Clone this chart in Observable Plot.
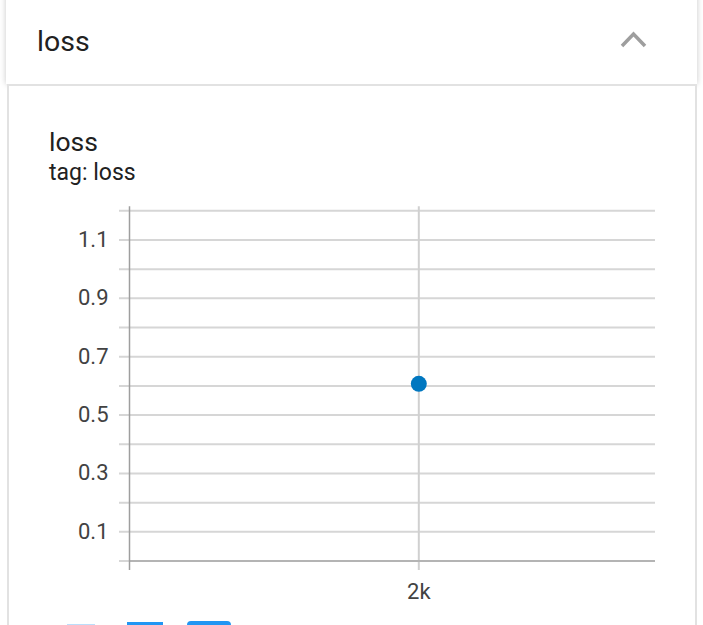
<!DOCTYPE html>
<html><head><meta charset="utf-8">
<script src="https://cdn.jsdelivr.net/npm/d3@7"></script>
<script src="https://cdn.jsdelivr.net/npm/@observablehq/plot@0.6"></script>
<style>
html,body{margin:0;padding:0;background:#fff;width:703px;height:625px;overflow:hidden;font-family:Roboto,"Noto Sans",sans-serif;}
#header{position:absolute;left:6px;top:-10px;width:691px;height:94px;background:#fff;box-shadow:0 0 6px rgba(0,0,0,0.22);}
#htitle{position:absolute;left:37px;top:25px;font-size:28.5px;line-height:34px;color:#212121;}
#chev{position:absolute;left:0;top:0;}
#card{position:absolute;left:7px;top:84px;width:690px;height:600px;box-sizing:border-box;border:2px solid #e2e2e2;background:#fff;}
#ctitle{position:absolute;left:49px;top:127px;font-size:26.5px;line-height:30px;color:#212121;}
#ctag{position:absolute;left:49px;top:160px;font-size:23px;line-height:26px;color:#212121;}
#plot{position:absolute;left:0;top:190px;}
.btn{position:absolute;}
</style></head>
<body>
<div id="header"></div>
<div id="htitle">loss</div>
<svg id="chev" width="703" height="84"><polyline points="622,46 633.5,34 645,46" fill="none" stroke="#9e9e9e" stroke-width="3.5"/></svg>
<div id="card"></div>
<div id="ctitle">loss</div>
<div id="ctag">tag: loss</div>
<div id="plot"></div>
<div class="btn" style="left:67px;top:624px;width:28px;height:4px;background:#bbdefb;"></div>
<div class="btn" style="left:127px;top:622px;width:36px;height:6px;background:#2196f3;"></div>
<div class="btn" style="left:187px;top:621px;width:44px;height:8px;background:#2196f3;border-radius:4px;"></div>
<script>
const steps = [2000];
const lossValues = [0.607];
const yGrid = [0, 0.1, 0.2, 0.3, 0.4, 0.5, 0.6, 0.7, 0.8, 0.9, 1.0, 1.1, 1.2];
const yTickLabels = [0.1, 0.3, 0.5, 0.7, 0.9, 1.1];
const xTicks = [2000];
const xDomain = [1890, 2090];
const yDomain = [0, 1.2];

const data = steps.map((s, i) => ({step: s, loss: lossValues[i]}));

const chart = Plot.plot({
  width: 703, height: 430,
  marginLeft: 129, marginRight: 48, marginTop: 20.3, marginBottom: 59.5,
  style: {fontFamily: "Roboto", fontSize: "22px", color: "#424242", background: "transparent", overflow: "visible"},
  x: {domain: xDomain, ticks: xTicks, tickFormat: d => d / 1000 + "k", tickSize: 0, tickPadding: 22, label: null},
  y: {domain: yDomain, ticks: yTickLabels, tickFormat: d => d.toFixed(1), tickSize: 0, tickPadding: 21, label: null},
  marks: [
    Plot.ruleY(yGrid, {stroke: "#d6d6d6", strokeWidth: 2, insetLeft: -10}),
    Plot.ruleX(xTicks, {stroke: "#d0d0d0", strokeWidth: 2, insetTop: -4, insetBottom: -9.5}),
    Plot.ruleY([yDomain[0]], {stroke: "#b4b4b4", strokeWidth: 2}),
    Plot.ruleX([xDomain[0]], {stroke: "#9e9e9e", strokeWidth: 1.5, insetTop: -4, insetBottom: -9.5}),
    Plot.dot(data, {x: "step", y: "loss", r: 8, fill: "#0077c0", stroke: null})
  ]
});
document.getElementById("plot").appendChild(chart);
</script>
</body></html>
